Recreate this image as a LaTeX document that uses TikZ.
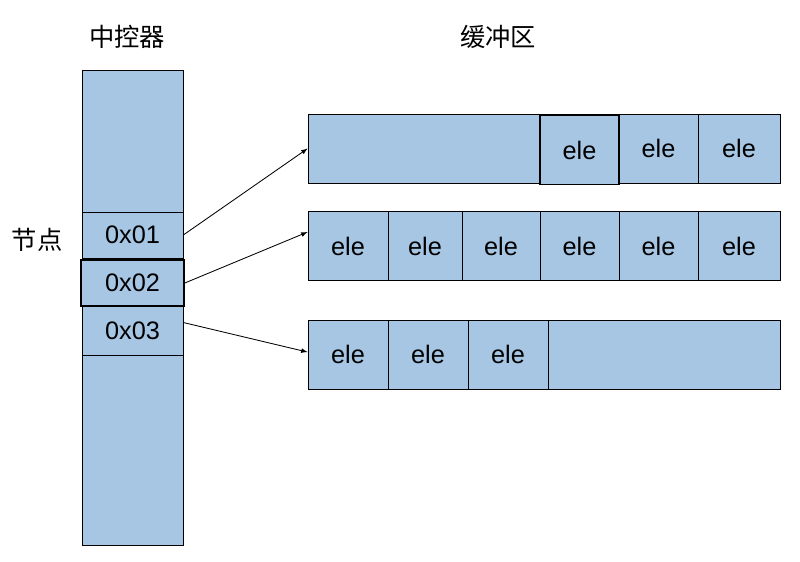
\documentclass[tikz,border=0pt]{standalone}
\usepackage{fontspec}
\setmainfont{Liberation Sans}
\newfontfamily\cjk{Noto Sans CJK SC}
\usetikzlibrary{arrows,positioning,calc}
\definecolor{cellblue}{RGB}{166,198,228}

\begin{document}
\begin{tikzpicture}
[x=0.025cm,y=-0.025cm,
    cell/.style={draw,fill=cellblue,inner sep=0pt,font=\fontsize{18}{20}\selectfont},
    buf/.style={cell,minimum width=11.8cm,minimum height=1.725cm},
    ele/.style={cell,minimum height=1.725cm},
    addr/.style={cell,minimum width=2.525cm},
    hi/.style={line width=1.1pt},
    title/.style={font=\cjk\fontsize{18}{20}\selectfont,inner sep=0pt},
myedge/.style={>=latex, shorten >=.0pt, shorten <=.0pt,semithick}]
\useasboundingbox (0,0) rectangle (800,561);
%%%%%%%%%%
%% titles
\node (tctl) [title] at (127,37) {中控器};
\node (tbuf) [title] at (498,37) {缓冲区};
\node (tnode) [title] at (37,240) {节点};

%% controller
\node (ctl) [cell,minimum width=2.525cm,minimum height=11.875cm] at (132.5,307.5) {};
\node (c1) [addr,minimum height=1.15cm] at (132.5,235) {0x01};
\node (c3) [addr,minimum height=1.225cm] at (132.5,330.5) {0x03};
\node (c2) [addr,hi,minimum width=2.575cm,minimum height=1.15cm] at (132.5,283) {0x02};

%% buffers
\node (b1) [buf] at (544,148.5) {};
\node (b2) [buf] at (544,246) {};
\node (b3) [buf] at (544,354.5) {};
% row 1
\node (e12) [ele,minimum width=1.975cm] at (658.5,148.5) {ele};
\node (e13) [ele,minimum width=2.05cm] at (739,148.5) {ele};
\node (e11) [ele,hi,minimum width=1.975cm] at (579.5,150) {ele};
% row 2
\node (e21) [ele,minimum width=2cm] at (348,246) {ele};
\node (e22) [ele,minimum width=1.85cm] at (425,246) {ele};
\node (e23) [ele,minimum width=1.95cm] at (501,246) {ele};
\node (e24) [ele,minimum width=1.975cm] at (579.5,246) {ele};
\node (e25) [ele,minimum width=1.975cm] at (658.5,246) {ele};
\node (e26) [ele,minimum width=2.05cm] at (739,246) {ele};
% row 3
\node (e31) [ele,minimum width=2cm] at (348,354.5) {ele};
\node (e32) [ele,minimum width=2cm] at (428,354.5) {ele};
\node (e33) [ele,minimum width=2cm] at (508,354.5) {ele};

%% edges
\draw[myedge,->] (c1.east) -- (b1.west);
\draw[myedge,->] (c2.east) -- ([yshift=.35cm]b2.west);
\draw[myedge,->] ([yshift=.2cm]c3.east) -- ([yshift=.06cm]b3.west);
\end{tikzpicture}
\end{document}
